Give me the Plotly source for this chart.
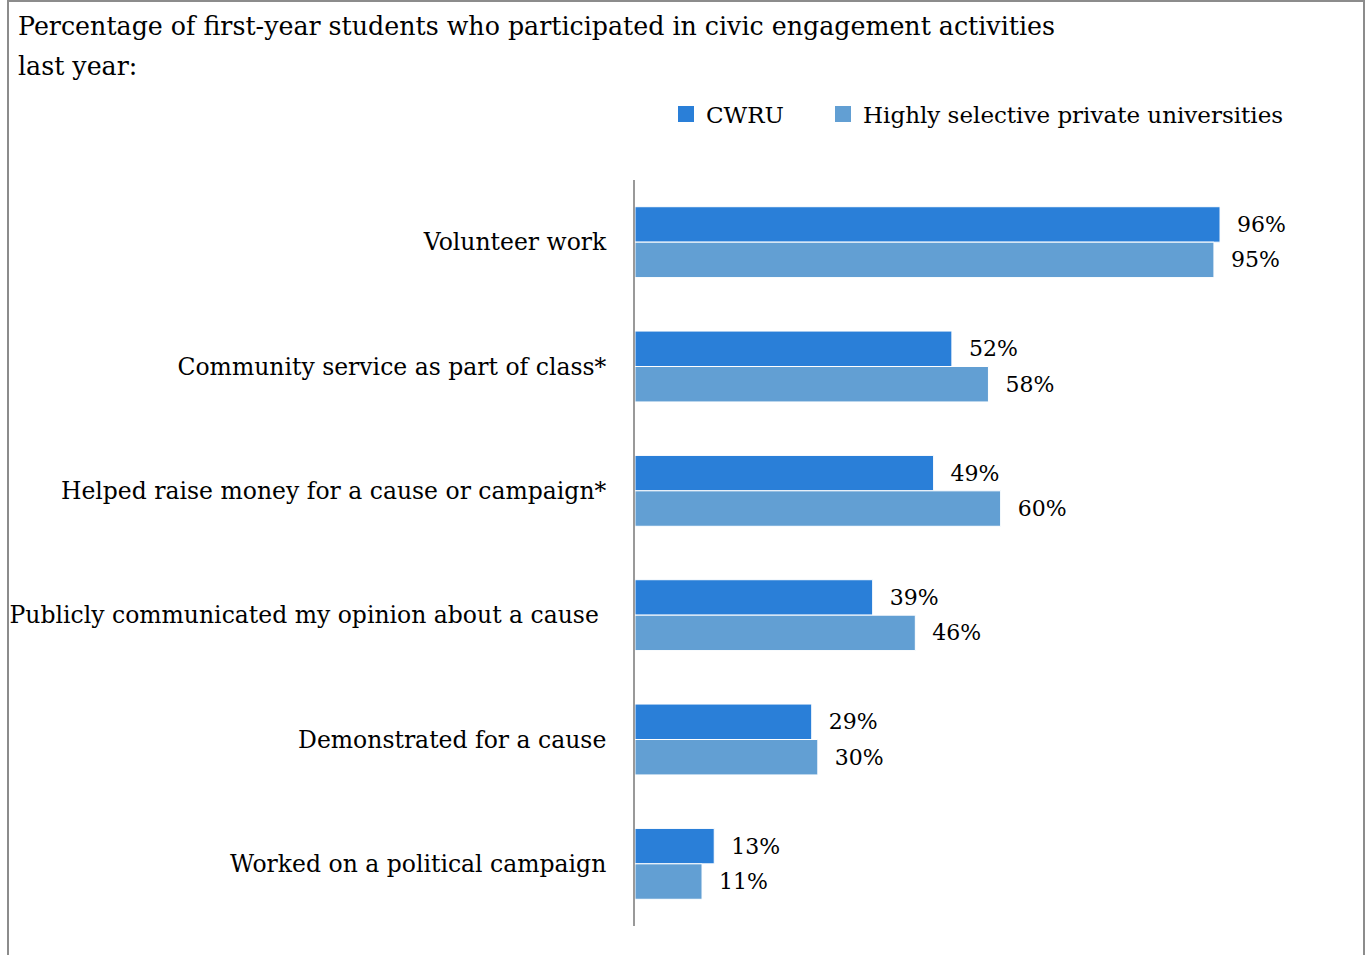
import plotly.graph_objects as go

# Civic engagement activities, first-year students
categories = [
    "Volunteer work",
    "Community service as part of class*",
    "Helped raise money for a cause or campaign*",
    "Publicly communicated my opinion about a cause ",
    "Demonstrated for a cause",
    "Worked on a political campaign",
]
cwru = [96, 52, 49, 39, 29, 13]
peers = [95, 58, 60, 46, 30, 11]
series_names = ["CWRU", "Highly selective private universities"]
series_colors = ["#2a7fd8", "#629fd3"]
title_lines = [
    "Percentage of first-year students who participated in civic engagement activities",
    "last year:",
]

W, H = 1366, 955
ML, MR, MT, MB = 635, 61, 180, 29
PX_PER_PCT = 6.094
xmax = (W - ML - MR) / PX_PER_PCT

FONT = "DejaVu Serif"
LABEL_FS = 23.5

fig = go.Figure()
for name, vals, col in zip(series_names, [cwru, peers], series_colors):
    fig.add_trace(go.Bar(
        y=categories, x=vals, name=name, orientation="h", showlegend=False,
        marker=dict(color=col, line=dict(color="white", width=1)),
        text=[f"{v}%" for v in vals], texttemplate="  %{text}",
        textposition="outside", cliponaxis=False,
        textfont=dict(family=FONT, size=22, color="black"),
    ))

def px_x(p):
    return (p - ML) / (W - ML - MR)

def px_y(p):
    return 1 - (p - MT) / (H - MT - MB)

# square legend swatches, one legend box per series
legend_ids = ["legend", "legend2"]
legend_left = [666, 823]
for name, col, lid in zip(series_names, series_colors, legend_ids):
    fig.add_trace(go.Scatter(
        x=[None], y=[None], mode="markers", name=name, showlegend=True, legend=lid,
        marker=dict(symbol="square", size=16, color=col),
    ))

legend_style = dict(orientation="h", yanchor="middle", xanchor="left",
                    bgcolor="rgba(0,0,0,0)",
                    font=dict(family=FONT, size=23, color="black"))

annotations = [
    dict(text=title_lines[0], x=px_x(16), y=px_y(26), xref="paper", yref="paper",
         xanchor="left", yanchor="middle", showarrow=False,
         font=dict(family=FONT, size=25.3, color="black")),
    dict(text=title_lines[1], x=px_x(16), y=px_y(66), xref="paper", yref="paper",
         xanchor="left", yanchor="middle", showarrow=False,
         font=dict(family=FONT, size=25.3, color="black")),
]

shapes = [
    dict(type="rect", xref="paper", yref="paper",
         x0=px_x(8), x1=px_x(1364), y0=px_y(1), y1=px_y(990),
         line=dict(color="#8c8c8c", width=2), fillcolor="rgba(0,0,0,0)", layer="above"),
]

fig.update_layout(
    width=W, height=H,
    margin=dict(l=ML, r=MR, t=MT, b=MB, autoexpand=False),
    paper_bgcolor="white", plot_bgcolor="white",
    barmode="group", bargap=0.43, bargroupgap=0,
    font=dict(family=FONT, size=LABEL_FS, color="black"),
    legend=dict(x=px_x(legend_left[0]), y=px_y(114), **legend_style),
    legend2=dict(x=px_x(legend_left[1]), y=px_y(114), **legend_style),
    xaxis=dict(range=[0, xmax], visible=False, showgrid=False, zeroline=False),
    yaxis=dict(autorange="reversed", showgrid=False, zeroline=False, automargin=False,
               showline=True, linecolor="#999999", linewidth=2,
               ticks="", ticklabelstandoff=22,
               tickfont=dict(family=FONT, size=LABEL_FS, color="black")),
    annotations=annotations,
    shapes=shapes,
)

fig.write_html("out.html")
